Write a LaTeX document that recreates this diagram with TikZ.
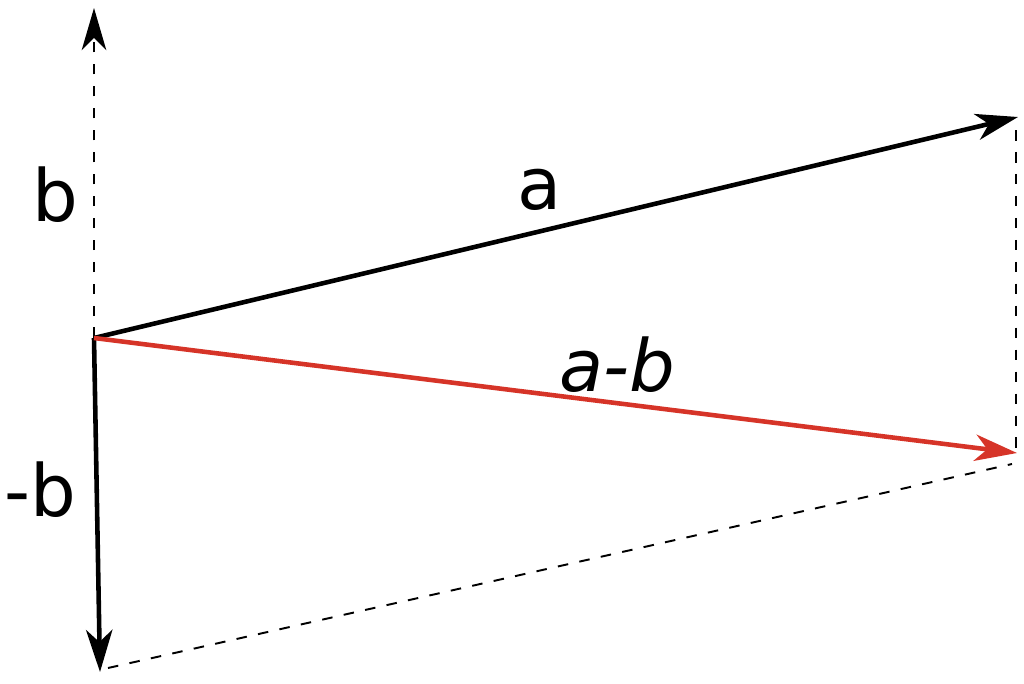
\documentclass[tikz,border=0pt]{standalone}
\usepackage{fontspec}
\setmainfont{DejaVu Sans}
\usetikzlibrary{arrows.meta,positioning}
\tikzstyle{vec} = [line width=2.6pt,-{Stealth[length=24pt,width=15pt,inset=7pt]}]
\tikzstyle{guide} = [line width=1.1pt, dash pattern=on 6pt off 6.5pt]
\tikzstyle{lbl} = [font=\fontsize{41}{46}\selectfont, inner sep=0pt]
\definecolor{vred}{RGB}{214,52,40}

\begin{document}
\begin{tikzpicture}[x=0.02cm,y=-0.02cm]
\useasboundingbox (0,0) rectangle (1024,683);

\coordinate (o) at (94,338);
\coordinate (a) at (1018,117);
\coordinate (b) at (94,8);
\coordinate (nb) at (100,672);
\coordinate (ab) at (1017,453);
\coordinate (ta) at (1016,130);
\coordinate (tab) at (1016,450);
\coordinate (bl) at (108,668);
\coordinate (br) at (1012,464);

\draw[guide] (ta) -- (tab);
\draw[guide] (bl) -- (br);
\draw[guide,-{Stealth[length=24pt,width=14pt,inset=7pt]}] (o) -- (b);
\draw[vec] (o) -- (a);
\draw[vec] (o) -- (nb);
\draw[vec,vred] (o) -- (ab);

\node[lbl] (lb) at (55,195) {b};
\node[lbl] (la) at (540,190) {a};
\node[lbl] (lab) at (617,365) {\itshape a-b};
\node[lbl] (lnb) at (40,490) {-b};
\end{tikzpicture}
\end{document}
